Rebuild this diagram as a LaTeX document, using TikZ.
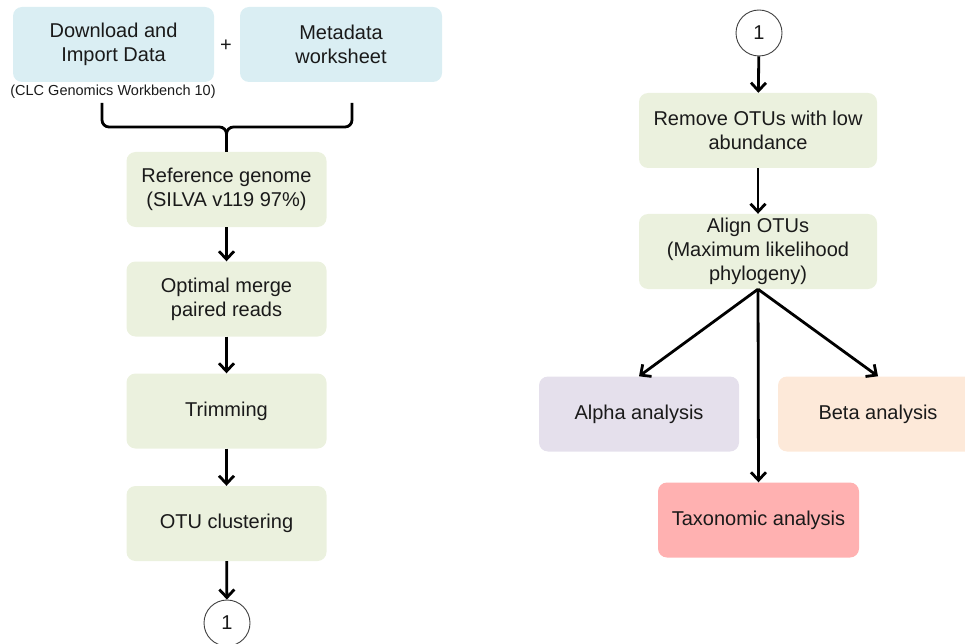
\documentclass[tikz,border=0pt]{standalone}
\usepackage{fontspec}
\setmainfont{Liberation Sans}
\usetikzlibrary{arrows.meta}
\definecolor{ink}{HTML}{1A1A1A}
\definecolor{inputfill}{HTML}{DAEEF3}
\definecolor{stagefill}{HTML}{EBF1DE}
\definecolor{alphafill}{HTML}{E5E0EC}
\definecolor{betafill}{HTML}{FDE9D9}
\definecolor{taxafill}{HTML}{FFB1B1}

\begin{document}
\begin{tikzpicture}[x=1pt,y=-1pt,font=\fontsize{20}{24}\selectfont,text=ink,
  box/.style={rounded corners=9pt,align=center,inner sep=0pt,minimum width=200pt,minimum height=75pt},
  inputbox/.style={box,fill=inputfill,minimum width=201pt},
  stage/.style={box,fill=stagefill},
  widestage/.style={stage,minimum width=238pt},
  flow/.style={draw=black,line width=2.8pt,-{Straight Barb[length=8pt,width=15pt]}},
  brace/.style={draw=black,line width=2.8pt,rounded corners=7pt},
  offpage/.style={circle,draw=black!75,line width=0.9pt,fill=white,inner sep=0pt,minimum size=46pt}]
\clip (0,0) rectangle (965,644);
% inputs
\node[inputbox] (download) at (113.5,44.5) {Download and\\Import Data};
\node[inputbox,minimum width=202pt] (metadata) at (341,44.5) {Metadata\\worksheet};
\node (plus) at (226,46) {+};
\node[font=\fontsize{14.5}{16}\selectfont] (clc) at (113,92) {(CLC Genomics Workbench 10)};
% left column
\node[stage] (reference) at (226.5,189.5) {Reference genome\\(SILVA v119 97\%)};
\node[stage] (merge) at (226.5,299) {Optimal merge\\paired reads};
\node[stage] (trimming) at (226.5,411) {Trimming};
\node[stage] (clustering) at (226.5,523.5) {OTU clustering};
\node[offpage] (linkout) at (227,623) {1};
\coordinate (braceleft) at (102,103);
\coordinate (braceright) at (352,103);
\coordinate (bracemid) at (226.5,127);
\draw[brace] (braceleft) |- (bracemid) -- (reference.north);
\draw[brace] (braceright) |- (bracemid) -- (reference.north);
\draw[flow] (reference) -- (merge);
\draw[flow] (merge) -- (trimming);
\draw[flow] (trimming) -- (clustering);
\draw[flow] (clustering) -- (linkout);
% right column
\node[offpage] (linkin) at (759,33) {1};
\node[widestage] (remove) at (758,130.5) {Remove OTUs with low\\abundance};
\node[widestage] (align) at (758,251.5) {Align OTUs\\(Maximum likelihood\\phylogeny)};
\node[box,fill=alphafill] (alpha) at (639,414) {Alpha analysis};
\node[box,fill=betafill] (beta) at (878,414) {Beta analysis};
\node[box,fill=taxafill,minimum width=201pt] (taxa) at (758.5,520) {Taxonomic analysis};
\draw[flow] (linkin) -- (remove);
\draw[flow] (remove) -- (align);
\draw[flow] (align.south) -- (alpha.north);
\draw[flow] (align.south) -- (taxa.north);
\draw[flow] (align.south) -- (beta.north);
\end{tikzpicture}
\end{document}
